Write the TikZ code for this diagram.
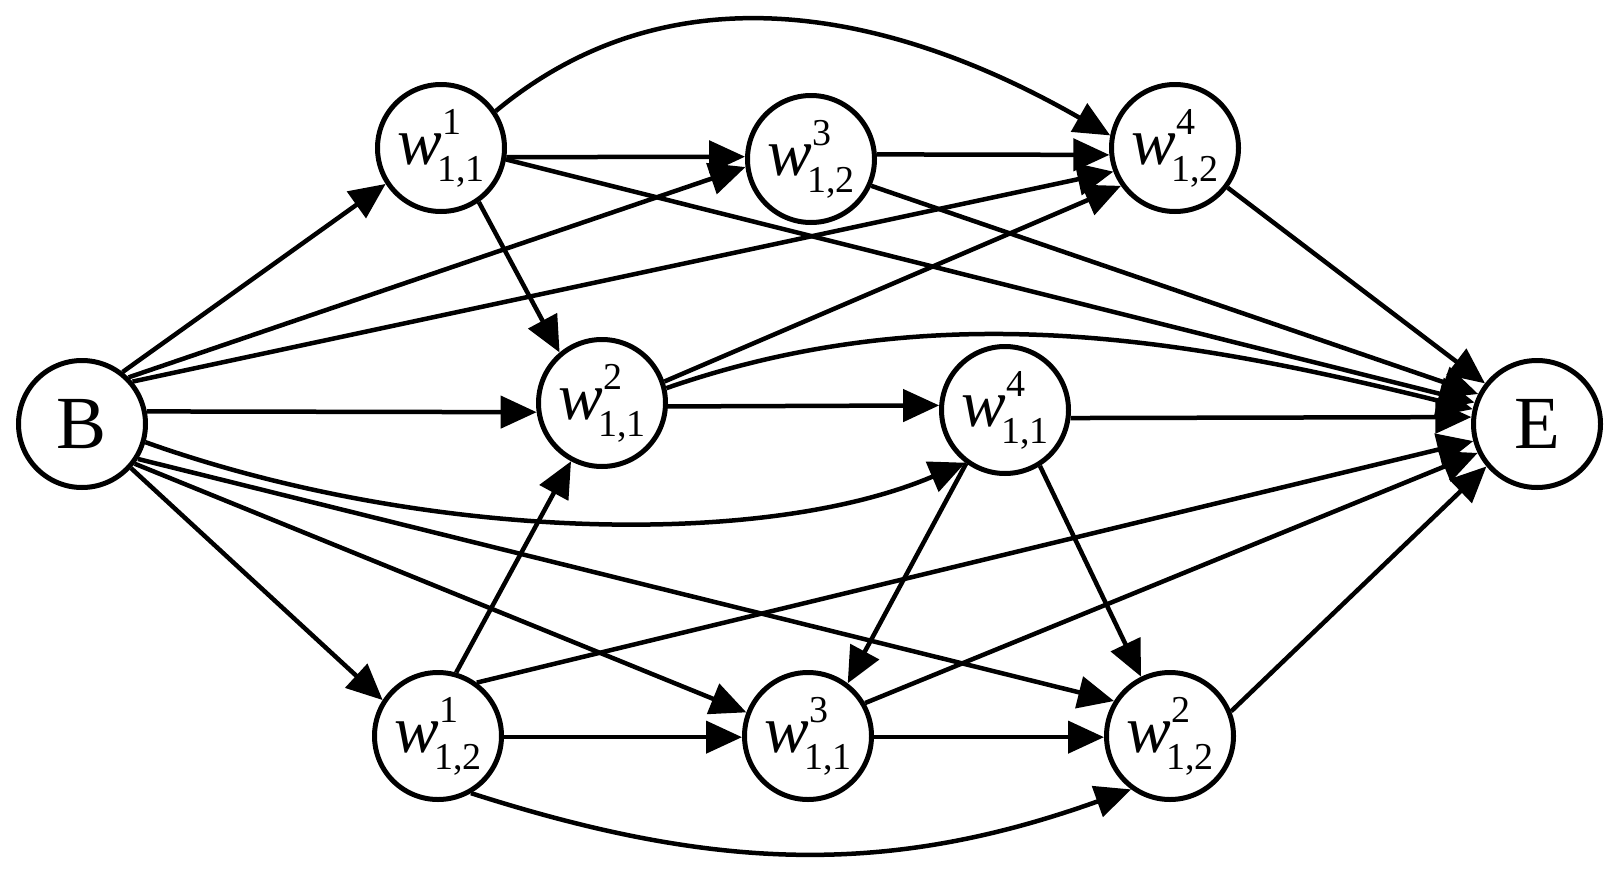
\documentclass[tikz,border=0pt]{standalone}
\usepackage{fontspec}
\setmainfont{Liberation Serif}
\usetikzlibrary{arrows.meta}
\newcommand{\wl}[2]{\fontsize{67}{70}\selectfont\itshape w\upshape\rlap{\raisebox{30pt}{\fontsize{38}{40}\selectfont #1}}\hspace{-5pt}\raisebox{-17pt}{\fontsize{38}{40}\selectfont #2}}
\begin{document}
\begin{tikzpicture}[x=1pt,y=-1pt,
  vtx/.style={circle,draw,line width=5pt,minimum size=127pt,inner sep=0pt,font=\fontsize{75}{80}\selectfont},
  edge/.style={line width=4.5pt,-{Triangle[length=36pt,width=32pt]}}]
\fill[white] (0,0) rectangle (1615,870);
\useasboundingbox (0,0) rectangle (1615,870);
\node[vtx] (B)  at (82,424)   {B};
\node[vtx] (E)  at (1537,424) {E};
\node[vtx] (A1) at (441,148)  {\wl{1}{1,1}};
\node[vtx] (A2) at (811,159)  {\wl{3}{1,2}};
\node[vtx] (A3) at (1175,148) {\wl{4}{1,2}};
\node[vtx] (M1) at (602,403)  {\wl{2}{1,1}};
\node[vtx] (M2) at (1005,410) {\wl{4}{1,1}};
\node[vtx] (L1) at (438,736)  {\wl{1}{1,2}};
\node[vtx] (L2) at (808,736)  {\wl{3}{1,1}};
\node[vtx] (L3) at (1170,736) {\wl{2}{1,2}};
\draw[edge] (B.52) -- (A1.213);
\draw[edge] (B.45) -- (A2.187);
\draw[edge] (B.40) -- (A3.201);
\draw[edge] (B.11) -- (M1.188);
\draw[edge] (B.-16) .. controls (420,540) and (760,550) .. (M2.233);
\draw[edge] (B.-32) -- (L3.148);
\draw[edge] (B.-37) -- (L2.159);
\draw[edge] (B.-42) -- (L1.147);
\draw[edge] (A1.-8) -- (A2.178);
\draw[edge] (A1.34) .. controls (679,-41) and (904,17) .. (A3.169);
\draw[edge] (A1.-10) -- (E.161);
\draw[edge] (A1.-55) -- (M1.130);
\draw[edge] (A2.4) -- (A3.186);
\draw[edge] (A2.-24) -- (E.153);
\draw[edge] (A3.-37) -- (E.142);
\draw[edge] (M1.19) -- (A3.215);
\draw[edge] (M1.13) .. controls (940,293) and (1192,340) .. (E.167);
\draw[edge] (M1.-3) -- (M2.176);
\draw[edge] (M2.-7) -- (E.174);
\draw[edge] (M2.234) -- (L2.53);
\draw[edge] (M2.-58) -- (L3.116);
\draw[edge] (L1.74) -- (M1.242);
\draw[edge] (L1.54) -- (E.195);
\draw[edge] (L1.-1) -- (L2.181);
\draw[edge] (L1.-60) .. controls (717,872) and (889,876) .. (L3.234);
\draw[edge] (L2.-1) -- (L3.181);
\draw[edge] (L2.30) -- (E.206);
\draw[edge] (L3.22) -- (E.220);
\end{tikzpicture}
\end{document}
